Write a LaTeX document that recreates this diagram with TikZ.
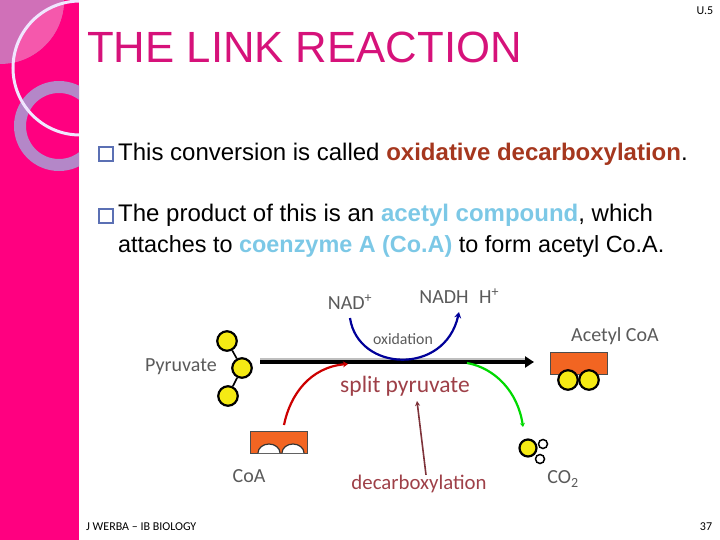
\documentclass[tikz,border=0pt]{standalone}
\usepackage{fontspec}
\setmainfont{Liberation Sans}
\newfontfamily\calib{Carlito}
\usetikzlibrary{arrows.meta}
\definecolor{sidepink}{HTML}{FF0080}
\definecolor{titlepink}{HTML}{D6127A}
\definecolor{ringpurple}{HTML}{B487C8}
\definecolor{cornerpurple}{HTML}{D070B8}
\definecolor{cornerpink}{HTML}{F558AC}
\definecolor{circlewhite}{HTML}{F0E6FF}
\definecolor{bulletblue}{HTML}{5B70B4}
\definecolor{rustred}{HTML}{A5371E}
\definecolor{skyblue}{HTML}{7CC8E6}
\definecolor{blockorange}{HTML}{F26522}
\definecolor{ballyellow}{HTML}{F5EA14}
\definecolor{splitred}{HTML}{9E4048}
\definecolor{labelgrey}{HTML}{5A5A5A}
\tikzset{
  bodytext/.style={anchor=base west, inner sep=0pt, font=\fontsize{24}{28}\selectfont},
  bulletbox/.style={draw=bulletblue, line width=1.8pt, minimum size=14pt, inner sep=0pt},
  ball/.style={circle, draw=black, line width=2.2pt, fill=ballyellow, minimum size=19.5pt, inner sep=0pt},
  smallball/.style={circle, draw=black, line width=1.5pt, fill=white, minimum size=9pt, inner sep=0pt},
  block/.style={fill=blockorange, draw=black!70, line width=0.5pt, minimum width=57pt, minimum height=22pt, inner sep=0pt},
  notch/.style={fill=white, draw=black!80, line width=1.2pt},
  figlabel/.style={inner sep=0pt, text=labelgrey, font=\calib\fontsize{20}{22}\selectfont},
  redlabel/.style={inner sep=0pt, text=splitred, font=\calib\fontsize{#1}{24}\selectfont},
  footer/.style={anchor=base, inner sep=0pt, font=\calib\fontsize{12}{14}\selectfont}
}
\begin{document}
\begin{tikzpicture}[x=1pt,y=-1pt]
  \useasboundingbox (0,0) rectangle (720,540);

  % Side band
  \begin{scope}
    \clip (0,0) rectangle (79,540);
    \fill[sidepink] (0,0) rectangle (79,540);
    \fill[cornerpurple] (0,0) -- (64,0) arc[start angle=0, end angle=90, radius=64] -- cycle;
    \begin{scope}
      \clip (80,68) circle (67);
      \fill[cornerpink] (0,0) -- (64,0) arc[start angle=0, end angle=90, radius=64] -- cycle;
    \end{scope}
    \draw[ringpurple, line width=12pt] (59,126) circle (39);
    \draw[circlewhite, line width=3pt] (80,68) circle (67);
  \end{scope}

  % Title and bullets
  \node[anchor=base west, inner sep=0pt, text=titlepink, font=\fontsize{43.7}{50}\selectfont] (title) at (87,63) {THE LINK REACTION};
  \node[bulletbox] (bulletA) at (106,154) {};
  \node[bodytext] (lineA) at (118,161) {This conversion is called \textcolor{rustred}{\textbf{oxidative decarboxylation}}.};
  \node[bulletbox] (bulletB) at (106,216) {};
  \node[bodytext] (lineB) at (118,222) {The product of this is an \textcolor{skyblue}{\textbf{acetyl compound}}, which};
  \node[bodytext, font=\fontsize{23.4}{28}\selectfont] (lineC) at (118,252) {attaches to \textcolor{skyblue}{\textbf{coenzyme A (Co.A)}} to form acetyl Co.A.};

  % Pyruvate
  \node[ball] (pyrA) at (227,341) {};
  \node[ball] (pyrB) at (242,368) {};
  \node[ball] (pyrC) at (228,396) {};
  \draw[line width=1.6pt] (pyrA) -- (pyrB);
  \draw[line width=1.6pt] (pyrB) -- (pyrC);
  \node[figlabel] (pyruvate) at (181,367) {Pyruvate};

  % CoA block
  \node[block] (coa) at (278.5,442) {};
  \draw[notch] (258,453) arc[start angle=180, end angle=360, x radius=11, y radius=9];
  \draw[notch] (282,453) arc[start angle=180, end angle=360, x radius=11, y radius=9];
  \node[figlabel] (coalabel) at (249,476) {CoA};

  % Acetyl CoA
  \node[block] (acetyl) at (578.5,363) {};
  \node[ball] (acetylA) at (568,380) {};
  \node[ball] (acetylB) at (589,380) {};
  \node[figlabel] (acetyllabel) at (615,336) {Acetyl CoA};

  % CO2
  \node[ball, minimum size=17pt] (co) at (528,448) {};
  \node[smallball] (oxA) at (543,444) {};
  \node[smallball] (oxB) at (540,459) {};
  \node[figlabel] (colabel) at (563,479) {CO\textsubscript{2}};

  % Labels
  \node[figlabel] (nad) at (350,302) {NAD\textsuperscript{+}};
  \node[figlabel] (nadh) at (444,297) {NADH};
  \node[figlabel] (hplus) at (489,296) {H\textsuperscript{+}};
  \node[figlabel, font=\calib\fontsize{15.8}{18}\selectfont] (oxidation) at (403,339) {oxidation};
  \node[redlabel=23.5] (split) at (405,386) {split pyruvate};
  \node[redlabel=20.8] (decarb) at (419,484) {decarboxylation};

  % Connectors
  \coordinate (start) at (260,362);
  \coordinate (tip) at (534,362);
  \coordinate (leave) at (467,363);
  \coordinate (join) at (348,364);
  \fill[black!25] (260,357.5) rectangle (525,360.5);
  \draw[-{Triangle[length=9pt,width=11pt]}, line width=3.4pt] (start) -- (tip);
  \draw[-{Stealth[length=6pt,width=7pt]}, line width=2.2pt, blue!60!black] (350,318) .. controls (358,372) and (445,376) .. (459,312);
  \draw[-{Stealth[length=5pt,width=6pt]}, line width=2.2pt, red!80!black] (284,425) .. controls (290,395) and (310,367) .. (join);
  \draw[-{Stealth[length=4pt,width=5pt]}, line width=2.2pt, green!85!black] (leave) .. controls (495,368) and (518,392) .. (523,427);
  \draw[-{Stealth[length=5pt,width=5pt]}, line width=1.6pt, splitred!80!black] (decarb.north -| 426,472) -- (417,401);

  % Footer
  \node[footer, anchor=base west] (foot) at (86,530) {J WERBA – IB BIOLOGY};
  \node[footer] (pagenum) at (706,530) {37};
  \node[footer] (unit) at (705,15) {U.5};
\end{tikzpicture}
\end{document}
